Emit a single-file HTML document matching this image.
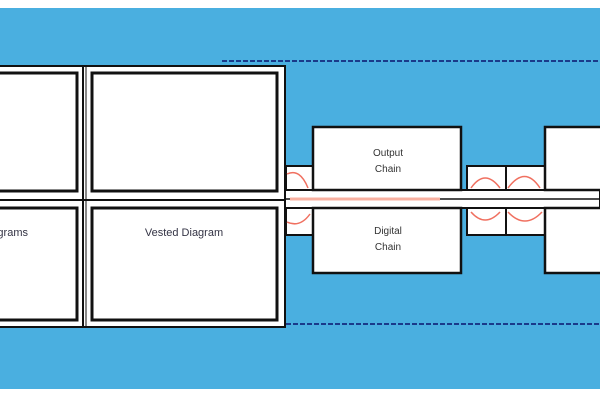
<!DOCTYPE html>
<html><head><meta charset="utf-8"><style>
body{margin:0;width:600px;height:400px;overflow:hidden;background:#fff;font-family:"Liberation Sans",sans-serif}
svg{display:block}
</style></head><body>
<svg width="600" height="400">
<rect x="0" y="8" width="600" height="381" fill="#4aafe0"/>
<line x1="222" y1="61" x2="600" y2="61" stroke="#1a3a8a" stroke-width="2" stroke-dasharray="5,2"/>
<line x1="286" y1="324" x2="600" y2="324" stroke="#1a3a8a" stroke-width="2" stroke-dasharray="5,2"/>
<!-- connector band -->
<rect x="280" y="190" width="320" height="18" fill="#fff" stroke="#111" stroke-width="2"/>
<line x1="280" y1="199" x2="600" y2="199" stroke="#111" stroke-width="1.5"/>
<!-- small boxes -->
<g fill="#fff" stroke="#111" stroke-width="2">
<rect x="286" y="166" width="27" height="24"/><rect x="286" y="208" width="27" height="27"/>
<rect x="467" y="166" width="39" height="24"/><rect x="506" y="166" width="39" height="24"/>
<rect x="467" y="208" width="39" height="27"/><rect x="506" y="208" width="39" height="27"/>
</g>
<g fill="none" stroke="#f07060" stroke-width="1.5">
<path d="M287 174 Q300 168 308 188"/><path d="M287 222 Q300 228 310 214"/>
<path d="M471 188 Q485 168 500 188"/><path d="M508 188 Q525 165 540 188"/>
<path d="M471 212 Q485 228 500 212"/><path d="M508 212 Q525 230 542 212"/>
<line x1="290" y1="199" x2="440" y2="199" stroke="#f8b0a0" stroke-width="3"/>
</g>
<!-- main frame -->
<rect x="-2" y="66" width="287" height="261" fill="#fff" stroke="#111" stroke-width="2"/>
<line x1="0" y1="200" x2="285" y2="200" stroke="#111" stroke-width="2"/>
<line x1="83" y1="66" x2="83" y2="327" stroke="#111" stroke-width="2"/>
<line x1="86" y1="66" x2="86" y2="327" stroke="#111" stroke-width="1"/>
<g fill="#fff" stroke="#111" stroke-width="3">
<rect x="-5" y="73" width="82" height="118"/>
<rect x="92" y="73" width="185" height="118"/>
<rect x="-5" y="208" width="82" height="112"/>
<rect x="92" y="208" width="185" height="112"/>
</g>
<text x="28" y="236" font-size="11" fill="#334" text-anchor="end">Diagrams</text>
<text x="184" y="236" font-size="11" fill="#334" text-anchor="middle">Vested Diagram</text>
<!-- right boxes -->
<g fill="#fff" stroke="#111" stroke-width="2.5">
<rect x="313" y="127" width="148" height="63"/>
<rect x="313" y="208" width="148" height="65"/>
<rect x="545" y="127" width="60" height="63"/>
<rect x="545" y="208" width="60" height="65"/>
</g>
<g font-size="10" fill="#333" text-anchor="middle">
<text x="388" y="156">Output</text>
<text x="388" y="172">Chain</text>
<text x="388" y="234">Digital</text>
<text x="388" y="250">Chain</text>
</g>
</svg>
</body></html>
